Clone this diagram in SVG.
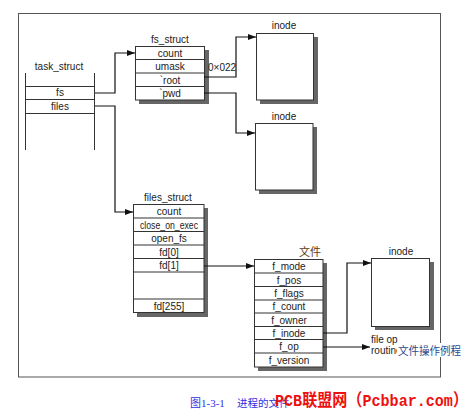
<svg xmlns="http://www.w3.org/2000/svg" width="476" height="414" viewBox="0 0 476 414">
<defs>
<marker id="ah" viewBox="0 0 8 6" refX="8" refY="3" markerWidth="8" markerHeight="6" orient="auto" markerUnits="userSpaceOnUse">
<path d="M0,0 L8,3 L0,6 z" fill="#111"/>
</marker>
<style>
.t{font-family:"Liberation Sans",Arial,sans-serif;font-size:10px;fill:#222;text-anchor:middle}
.box{fill:#fff;stroke:#333;stroke-width:1}
.sh{fill:#666}
.ln{fill:none;stroke:#333;stroke-width:1}
.cna{fill:none;stroke:#111;stroke-width:1.2;marker-end:url(#ah)}
</style>
</defs>
<rect width="476" height="414" fill="#fff"/>
<rect x="18.5" y="13.5" width="422" height="363.5" fill="none" stroke="#555" stroke-width="1"/>

<g id="task_struct">
<text class="t" x="59" y="70">task_struct</text>
<line class="ln" x1="25.5" y1="73" x2="25.5" y2="150"/>
<line class="ln" x1="94.5" y1="73" x2="94.5" y2="150"/>
<line class="ln" x1="25" y1="86.5" x2="95" y2="86.5"/>
<line class="ln" x1="25" y1="99.5" x2="95" y2="99.5"/>
<line class="ln" x1="25" y1="113.5" x2="95" y2="113.5"/>
<text class="t" x="60" y="96">fs</text>
<text class="t" x="60" y="110">files</text>
</g>

<g id="fs_struct">
<text class="t" x="170" y="43">fs_struct</text>
<rect class="sh" x="139" y="50" width="70" height="54"/>
<rect class="box" x="135.5" y="46.5" width="69" height="53.5"/>
<line class="ln" x1="135.5" y1="59.5" x2="204.5" y2="59.5"/>
<line class="ln" x1="135.5" y1="73" x2="204.5" y2="73"/>
<line class="ln" x1="135.5" y1="86.5" x2="204.5" y2="86.5"/>
<text class="t" x="170" y="57">count</text>
<text class="t" x="170" y="70">umask</text>
<text class="t" x="170" y="84">`root</text>
<text class="t" x="170" y="97">`pwd</text>
</g>

<g id="inode1">
<text class="t" x="284" y="29">inode</text>
<rect class="sh" x="260" y="37" width="58" height="67"/>
<rect class="box" x="256.5" y="33.5" width="57" height="66.5"/>
</g>

<g id="inode2">
<text class="t" x="284" y="120">inode</text>
<rect class="sh" x="259" y="127" width="58" height="67"/>
<rect class="box" x="255.5" y="123.5" width="57.5" height="66.5"/>
</g>

<g id="files_struct">
<text class="t" x="168" y="201">files_struct</text>
<rect class="sh" x="137" y="208" width="71" height="109"/>
<rect class="box" x="133.5" y="204.5" width="70.5" height="108"/>
<line class="ln" x1="133.5" y1="218" x2="204" y2="218"/>
<line class="ln" x1="133.5" y1="231.5" x2="204" y2="231.5"/>
<line class="ln" x1="133.5" y1="245" x2="204" y2="245"/>
<line class="ln" x1="133.5" y1="258.5" x2="204" y2="258.5"/>
<line class="ln" x1="133.5" y1="272" x2="204" y2="272"/>
<line class="ln" x1="133.5" y1="299" x2="204" y2="299"/>
<text class="t" x="169" y="215">count</text>
<text class="t" x="169" y="228.5" textLength="58" lengthAdjust="spacingAndGlyphs">close_on_exec</text>
<text class="t" x="169" y="242">open_fs</text>
<text class="t" x="169" y="255.5">fd[0]</text>
<text class="t" x="169" y="269">fd[1]</text>
<text class="t" x="169" y="309.5">fd[255]</text>
</g>

<g id="file">
<text x="310" y="256" style="font-family:'Noto Sans CJK SC',sans-serif;font-size:11px;fill:#5a3a10;text-anchor:middle">文件</text>
<rect class="sh" x="258" y="263" width="69" height="108"/>
<rect class="box" x="254.5" y="259.5" width="68.5" height="107.5"/>
<line class="ln" x1="254.5" y1="273" x2="323" y2="273"/>
<line class="ln" x1="254.5" y1="286.5" x2="323" y2="286.5"/>
<line class="ln" x1="254.5" y1="300" x2="323" y2="300"/>
<line class="ln" x1="254.5" y1="313" x2="323" y2="313"/>
<line class="ln" x1="254.5" y1="326.5" x2="323" y2="326.5"/>
<line class="ln" x1="254.5" y1="339.5" x2="323" y2="339.5"/>
<line class="ln" x1="254.5" y1="353" x2="323" y2="353"/>
<text class="t" x="289" y="270">f_mode</text>
<text class="t" x="289" y="283.5">f_pos</text>
<text class="t" x="289" y="297">f_flags</text>
<text class="t" x="289" y="310">f_count</text>
<text class="t" x="289" y="323.5">f_owner</text>
<text class="t" x="289" y="337">f_inode</text>
<text class="t" x="289" y="350">f_op</text>
<text class="t" x="289" y="363.5">f_version</text>
</g>

<g id="inode3">
<text class="t" x="401" y="255">inode</text>
<rect class="sh" x="375" y="262" width="59" height="68"/>
<rect class="box" x="371.5" y="258.5" width="58" height="68"/>
</g>

<g id="connectors">
<polyline class="cna" points="95,93 115,93 115,53 135,53"/>
<polyline class="cna" points="95,106 115,106 115,212 133,212"/>
<polyline class="cna" points="204,77 236,77 236,37 256,37"/>
<polyline class="cna" points="204,93 236,93 236,133 255,133"/>
<polyline class="cna" points="204,266 254,266"/>
<polyline class="cna" points="323,333 347,333 347,263 371,263"/>
<polyline class="cna" points="323,347 370,347"/>
</g>

<g id="labels">
<text x="208" y="71" style="font-family:'Liberation Sans',sans-serif;font-size:10px;fill:#222">0×022</text>
<text x="371" y="343" style="font-family:'Liberation Sans',sans-serif;font-size:10px;fill:#222">file op</text>
<text x="371" y="354" style="font-family:'Liberation Sans',sans-serif;font-size:10px;fill:#222">routine</text>
<rect x="397" y="343" width="68" height="14" fill="#fff"/>
<text x="398" y="355" textLength="63" lengthAdjust="spacingAndGlyphs" style="font-family:'Noto Sans CJK SC',sans-serif;font-size:11px;fill:#2b4a8c">文件操作例程</text>
</g>

<g id="caption">
<text x="190" y="407" style="font-family:'Liberation Serif','Noto Sans CJK SC',serif;font-size:11px;fill:#3030e0">图1-3-1</text>
<text x="237" y="407" style="font-family:'Noto Sans CJK SC',serif;font-size:10.5px;fill:#3030e0">进程的文件</text>
<text transform="translate(275,406) scale(1,1.15)" x="0" y="0" textLength="193" lengthAdjust="spacingAndGlyphs" style="font-family:'Liberation Mono','Noto Sans CJK SC',monospace;font-size:15px;font-weight:bold;fill:#ee1010">PCB联盟网（Pcbbar.com）</text>
</g>
</svg>
